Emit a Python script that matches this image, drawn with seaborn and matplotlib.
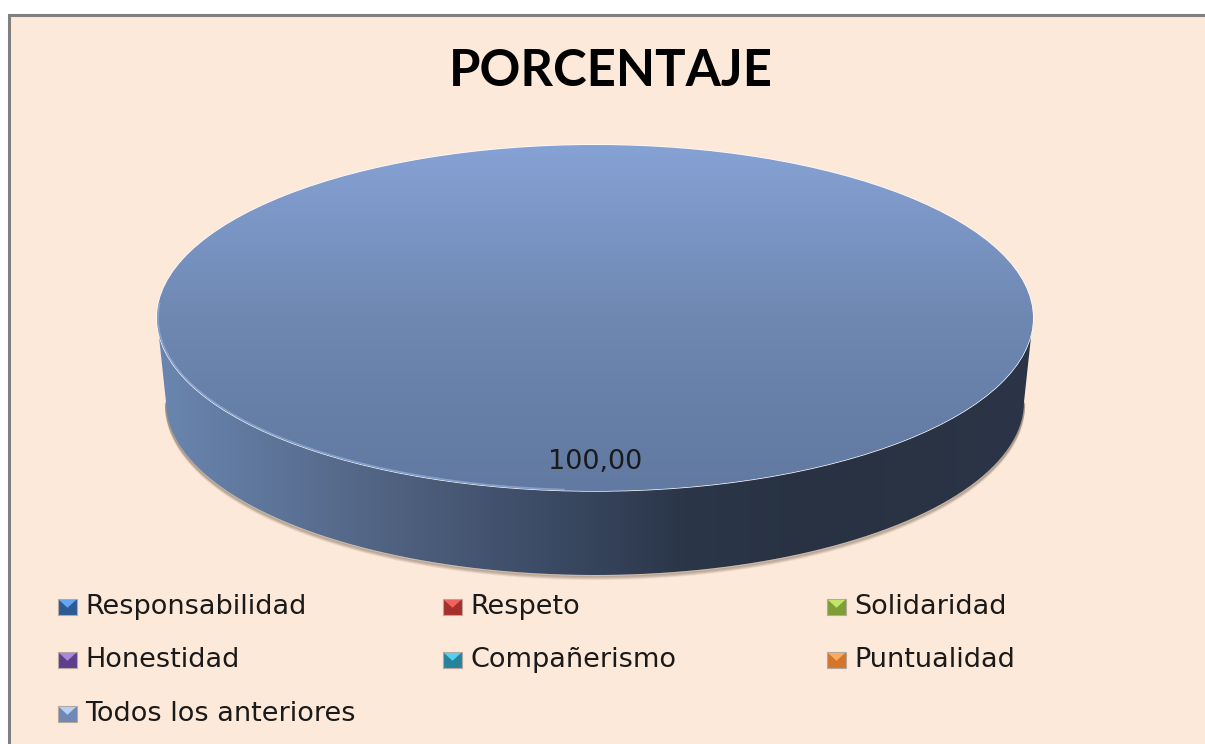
import numpy as np
import pandas as pd
import seaborn as sns
import matplotlib
matplotlib.use('Agg')
from matplotlib import pyplot as plt
from matplotlib.colors import LinearSegmentedColormap
from matplotlib.patches import Rectangle, PathPatch, Polygon, Arc
from matplotlib.path import Path

title = 'PORCENTAJE'
categories = ['Responsabilidad', 'Respeto', 'Solidaridad', 'Honestidad',
              'Compañerismo', 'Puntualidad', 'Todos los anteriores']
values = [0, 0, 0, 0, 0, 0, 100]
value_label = '100,00'
# dark body, light top of each legend key
colors = ['#2c5a94', '#a8302c', '#7f9e35', '#5f3f8c', '#27839c', '#d4762a', '#6f88b4']
lights = ['#62a5f0', '#f0625c', '#bfe56a', '#a888dc', '#55d0ee', '#f8ac60', '#b5d0f5']

bg = '#fde9d9'
sns.set_theme(style='white')
plt.rcParams['font.family'] = ['DejaVu Sans']

df = pd.DataFrame({'categoria': categories, 'valor': values})

W, H = 1205, 744
fig = plt.figure(figsize=(12.05, 7.44), dpi=100, facecolor='white')
ax = fig.add_axes([0, 0, 1, 1])
ax.axis('off')

# chart frame
ax.add_patch(Rectangle((8.5, 14.5), 1260, 800, fc=bg, ec='#808080', lw=2.2, zorder=0))

ax.text(611, 71, title, ha='center', va='center', fontsize=36.5, fontweight='bold',
        color='black', family='Lato')

# pie geometry
cx, cy, rx, ry, depth = 595, 318, 438, 173, 84

# side wall
side_cmap = LinearSegmentedColormap.from_list(
    'side', [(0, '#6a86b0'), (0.15, '#5c7296'), (0.28, '#4e607e'), (0.45, '#3b4a64'),
             (0.6, '#2b3649'), (0.75, '#283242'), (1, '#2b3547')])
th = np.linspace(np.pi, 0, 200)
xs = cx + rx * np.cos(th)
top = cy + ry * np.sin(th)
# wall pulls in slightly towards the bottom at both ends
xb = cx + (rx - 9) * np.cos(th)
bot = top + depth
verts = list(zip(xs, top)) + list(zip(xb[::-1], bot[::-1])) + [(xs[0], top[0])]

# soft shadow under the wall
for off, al in [(4, 0.10), (3, 0.16), (2, 0.22), (1, 0.28)]:
    ax.plot(xb, bot + off, color='#6b5a48', alpha=al, lw=1.6, zorder=1, solid_capstyle='round')

side = PathPatch(Path(verts), fc='none', ec='none', zorder=2)
ax.add_patch(side)
g = np.linspace(0, 1, 400).reshape(1, -1)
im = ax.imshow(g, extent=(cx - rx, cx + rx, cy + ry + depth, cy), cmap=side_cmap, aspect='auto', zorder=2)
im.set_clip_path(side)
ax.set_xlim(0, W)
ax.set_ylim(H, 0)

# top face: a real pie drawn from the values in its own axes
pie_ax = fig.add_axes([(cx - rx) / W, 1 - (cy + ry) / H, 2 * rx / W, 2 * ry / H], zorder=3)
wedges, _ = pie_ax.pie(df['valor'], colors=colors, radius=1, startangle=90)
pie_ax.patch.set_alpha(0)
top_cmap = LinearSegmentedColormap.from_list('top', ['#86a2d4', '#7a95c4', '#6f88b2', '#6780a8', '#627aa2'])
g2 = np.linspace(0, 1, 300).reshape(-1, 1)
im2 = pie_ax.imshow(g2, extent=(-1, 1, -1, 1), cmap=top_cmap, aspect='auto', zorder=3, origin='upper')
im2.set_clip_path(wedges[-1])
pie_ax.set_aspect('auto')
pie_ax.set_xlim(-1, 1)
pie_ax.set_ylim(-1, 1)

# overlay for the text and the legend
over = fig.add_axes([0, 0, 1, 1], zorder=4)
over.axis('off')
# light rim on the lit left part of the top face
over.add_patch(Arc((cx, cy), 2 * rx - 2, 2 * ry - 2, theta1=100, theta2=182, ec='#8fa9d6', lw=1.2, alpha=0.8))
over.text(595, 462, value_label, ha='center', va='center', fontsize=19.5, color='#1a1a1a')

# legend
leg_x = [58, 443, 827]
leg_y = [607, 660, 714]
key_w, key_h = 19, 16
for i, row in df.iterrows():
    lx = leg_x[i % 3]
    ly = leg_y[i // 3]
    x0, y0 = lx, ly - key_h / 2
    over.add_patch(Rectangle((x0, y0), key_w, key_h, fc=colors[i], ec='#b5a89e', lw=0.8))
    over.add_patch(Polygon([(x0 + 1, y0 + 1), (x0 + key_w - 1, y0 + 1), (x0 + key_w / 2, y0 + key_h * 0.55)],
                           fc=lights[i], ec='none'))
    over.text(lx + 27, ly, row['categoria'], ha='left', va='center', fontsize=19.5, color='#1a1a1a')
over.set_xlim(0, W)
over.set_ylim(H, 0)

fig.savefig('out.png', dpi=100, facecolor='white')
